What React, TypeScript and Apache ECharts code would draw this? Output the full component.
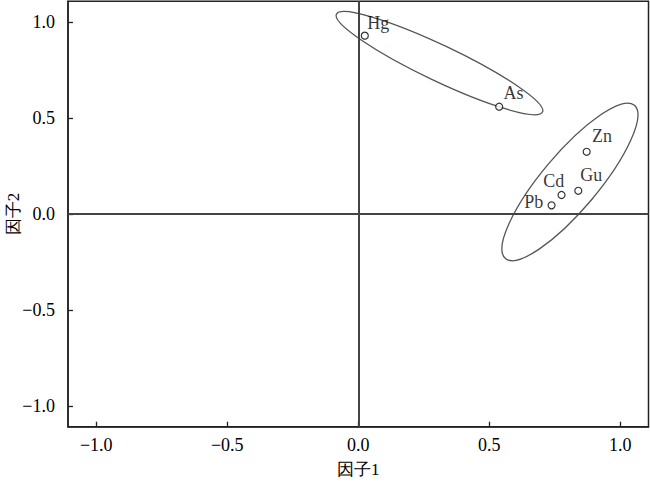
import React, { useEffect, useRef } from "react";
import * as echarts from "echarts";

// ---- data ----
const elements = ["Hg", "As", "Zn", "Gu", "Cd", "Pb"];
const factor1 = [0.025, 0.538, 0.872, 0.84, 0.776, 0.738];
const factor2 = [0.929, 0.559, 0.324, 0.121, 0.099, 0.045];
const tickValues = [-1, -0.5, 0, 0.5, 1];
const axisMin = -1.108;
const axisMax = 1.108;
const xName = "因子1";
const yName = "因子2";
// group ellipses: centre and major-axis tip in factor units
const ellipseCenters = [
  [0.31, 0.786],
  [0.808, 0.167],
];
const ellipseTips = [
  [0.7035, 0.531],
  [1.054, 0.566],
];

// ---- styles ----
const ellipseHalfWidthPx = [18, 28];
const labelLayout: Record<string, { dx: number; dy: number; align: string }> = {
  Hg: { dx: 3, dy: -12, align: "left" },
  As: { dx: 5, dy: -13, align: "left" },
  Zn: { dx: 6, dy: -15, align: "left" },
  Gu: { dx: 2.5, dy: -15, align: "left" },
  Cd: { dx: 3.3, dy: -13, align: "right" },
  Pb: { dx: -7.7, dy: -2.6, align: "right" },
};
const FONT = "Liberation Serif";
const FS = 18;
const SYM = 7;

const fmt = (v: number) => (v < 0 ? "\u2212" : "") + Math.abs(v).toFixed(1);

export default function App() {
  const ref = useRef<HTMLDivElement>(null);
  useEffect(() => {
    if (!ref.current) return;
    const chart = echarts.init(ref.current, null, { renderer: "svg" });
    const axisCommon = {
      type: "value",
      min: axisMin,
      max: axisMax,
      nameLocation: "middle",
      nameMoveOverlap: false,
      axisLine: { show: true, onZero: false, lineStyle: { color: "#222", width: 1.5 } },
      axisTick: {
        show: true,
        inside: true,
        length: 5,
        customValues: tickValues,
        lineStyle: { color: "#222", width: 1.3 },
      },
      axisLabel: {
        customValues: tickValues,
        formatter: fmt,
        fontFamily: FONT,
        fontSize: FS,
        color: "#000",
      },
      splitLine: { show: false },
    };
    const scatterData = elements.map((name, i) => {
      const l = labelLayout[name];
      return {
        name,
        value: [factor1[i], factor2[i]],
        label: {
          show: true,
          formatter: name,
          position: [SYM / 2 + l.dx, SYM / 2 + l.dy],
          align: l.align,
          verticalAlign: "middle",
          fontFamily: FONT,
          fontSize: FS,
          color: "#000",
        },
      };
    });
    const ellipseData = ellipseCenters.map((c, i) => [
      c[0],
      c[1],
      ellipseTips[i][0],
      ellipseTips[i][1],
      i,
    ]);
    chart.setOption({
      animation: false,
      backgroundColor: "#fff",
      textStyle: { fontFamily: FONT },
      grid: {
        left: 68,
        right: 1.5,
        top: 1.3,
        bottom: 56.3,
        show: true,
        containLabel: false,
        outerBoundsMode: "none",
        borderColor: "#222",
        borderWidth: 1.5,
      },
      xAxis: {
        ...axisCommon,
        name: xName,
        nameGap: 34,
        nameTextStyle: { fontFamily: FONT, fontSize: 17, color: "#000" },
        axisLabel: { ...axisCommon.axisLabel, margin: 9 },
      },
      yAxis: {
        ...axisCommon,
        name: yName,
        nameGap: 55,
        nameRotate: 90,
        nameTextStyle: {
          fontFamily: FONT,
          fontSize: 17,
          color: "#000",
          align: "center",
          verticalAlign: "middle",
        },
        axisLabel: { ...axisCommon.axisLabel, margin: 13 },
      },
      series: [
        {
          type: "custom",
          coordinateSystem: "cartesian2d",
          clip: false,
          silent: true,
          encode: { x: 0, y: 1 },
          data: ellipseData,
          renderItem: (params: any, api: any) => {
            const c = api.coord([api.value(0), api.value(1)]);
            const t = api.coord([api.value(2), api.value(3)]);
            const idx = api.value(4);
            const dx = t[0] - c[0];
            const dy = t[1] - c[1];
            const a = Math.sqrt(dx * dx + dy * dy);
            const rot = Math.atan2(-dy, dx);
            return {
              type: "ellipse",
              x: c[0],
              y: c[1],
              rotation: rot,
              shape: { cx: 0, cy: 0, rx: a, ry: ellipseHalfWidthPx[idx] },
              style: { fill: "none", stroke: "#555", lineWidth: 1.3 },
            };
          },
          z: 3,
        },
        {
          type: "scatter",
          symbol: "circle",
          symbolSize: SYM,
          itemStyle: { color: "#fff", borderColor: "#000", borderWidth: 1.2 },
          data: scatterData,
          z: 5,
          markLine: {
            silent: true,
            symbol: "none",
            label: { show: false },
            lineStyle: { color: "#444", width: 2, type: "solid" },
            data: [{ xAxis: 0 }, { yAxis: 0 }],
          },
        },
      ],
    });
    return () => chart.dispose();
  }, []);
  return (
    <div
      ref={ref}
      style={{ position: "fixed", left: 0, top: 0, width: 650, height: 483 }}
    />
  );
}
